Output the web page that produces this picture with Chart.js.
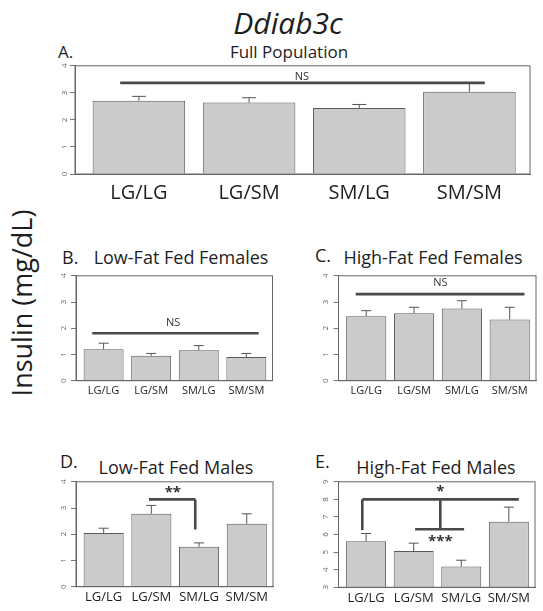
<!DOCTYPE html>
<html>
<head>
<meta charset="utf-8">
<script src="https://cdn.jsdelivr.net/npm/chart.js@4.4.1/dist/chart.umd.min.js"></script>
<style>
    body { margin: 0; background: #fff; width: 543px; height: 611px; position: relative; overflow: hidden;
           font-family: "Open Sans", sans-serif; color: #1e1e1e; }
    .txt { position: absolute; white-space: nowrap; line-height: 1; transform: translate(-50%, -50%); }
    .lbl { position: absolute; white-space: nowrap; line-height: 1; transform: translateY(-50%); }
    canvas { position: absolute; }
</style>
</head>
<body>

<div class="txt" style="left:288px;top:23px;font-size:30px;font-style:italic;">Ddiab3c</div>
<div class="txt" style="left:21px;top:303px;font-size:27px;transform:translate(-50%,-50%) rotate(-90deg);">Insulin (mg/dL)</div>

<div class="lbl" style="left:58px;top:51px;font-size:17px;">A.</div>
<div class="txt" style="left:289px;top:51px;font-size:17px;">Full Population</div>

<div class="lbl" style="left:62px;top:257px;font-size:18px;">B.</div>
<div class="txt" style="left:181px;top:257px;font-size:18px;">Low-Fat Fed Females</div>

<div class="lbl" style="left:315px;top:255px;font-size:18px;">C.</div>
<div class="txt" style="left:433px;top:257px;font-size:18px;">High-Fat Fed Females</div>

<div class="lbl" style="left:60px;top:461px;font-size:18px;">D.</div>
<div class="txt" style="left:176px;top:467px;font-size:18px;">Low-Fat Fed Males</div>

<div class="lbl" style="left:315px;top:461px;font-size:18px;">E.</div>
<div class="txt" style="left:436px;top:467px;font-size:18px;">High-Fat Fed Males</div>

<canvas id="chartA" width="495" height="150" style="left:40px;top:58px;"></canvas>
<canvas id="chartB" width="238" height="134" style="left:40px;top:266px;"></canvas>
<canvas id="chartC" width="243" height="134" style="left:300px;top:266px;"></canvas>
<canvas id="chartD" width="238" height="139" style="left:40px;top:472px;"></canvas>
<canvas id="chartE" width="243" height="139" style="left:300px;top:472px;"></canvas>

<script>
// DATA

const genotypes = ["LG/LG", "LG/SM", "SM/LG", "SM/SM"];

// insulin means and standard errors (mg/dL)
const fullMean = [2.71, 2.64, 2.44, 3.04];
const fullSE = [0.16, 0.18, 0.13, 0.33];

const lowFatFemaleMean = [1.20, 0.95, 1.16, 0.90];
const lowFatFemaleSE = [0.23, 0.09, 0.18, 0.14];

const highFatFemaleMean = [2.46, 2.57, 2.75, 2.33];
const highFatFemaleSE = [0.21, 0.23, 0.30, 0.47];

const lowFatMaleMean = [2.05, 2.78, 1.52, 2.40];
const lowFatMaleSE = [0.18, 0.32, 0.15, 0.38];

const highFatMaleMean = [5.62, 5.06, 4.18, 6.73];
const highFatMaleSE = [0.44, 0.45, 0.36, 0.83];

// y axis ranges
const yRange = [0, 4];
const yRangeHighFatMale = [3, 9];

// significance marks: [x1, y1, x2, y2] in genotype index / insulin units, then labels
const sigLinesA = [[-0.17, 3.37, 3.14, 3.37]];
const sigTextA = [[1.48, 3.6, "NS"]];
const sigLinesB = [[-0.24, 1.81, 3.26, 1.81]];
const sigTextB = [[1.46, 2.2, "NS"]];
const sigLinesC = [[-0.22, 3.30, 3.31, 3.30]];
const sigTextC = [[1.55, 3.72, "NS"]];
const sigLinesD = [[0.95, 3.33, 1.92, 3.33], [1.92, 3.33, 1.92, 2.18]];
const sigTextD = [[1.45, 3.6, "**"]];
const sigLinesE = [[-0.08, 8.0, 3.21, 8.0], [-0.08, 8.0, -0.08, 6.25], [1.56, 8.0, 1.56, 6.3], [1.03, 6.3, 2.06, 6.3]];
const sigTextE = [[1.56, 8.42, "*"], [1.56, 5.6, "***"]];


Chart.defaults.font.family = "'Open Sans', sans-serif";
Chart.defaults.color = "#1e1e1e";


// error bars, box and significance marks
const extras = {
    id: "extras",
    afterDatasetsDraw(chart, args, opts) {
        const ctx = chart.ctx;
        const xs = chart.scales.x;
        const ys = chart.scales.y;
        const area = chart.chartArea;
        const meta = chart.getDatasetMeta(0);

        ctx.save();
        ctx.strokeStyle = "#555";
        ctx.lineWidth = 1;
        opts.means.forEach((m, i) => {
            const bx = meta.data[i].x;
            const y0 = ys.getPixelForValue(m);
            const y1 = ys.getPixelForValue(m + opts.errors[i]);
            ctx.beginPath();
            ctx.moveTo(bx, y0);
            ctx.lineTo(bx, y1);
            ctx.moveTo(bx - opts.cap, y1);
            ctx.lineTo(bx + opts.cap, y1);
            ctx.stroke();
        });

        ctx.strokeStyle = "#666";
        ctx.strokeRect(area.left, area.top, area.right - area.left, area.bottom - area.top);

        ctx.strokeStyle = "#4a4a4a";
        ctx.lineWidth = 2.6;
        ctx.lineCap = "butt";
        opts.lines.forEach(l => {
            ctx.beginPath();
            ctx.moveTo(xs.getPixelForValue(l[0]), ys.getPixelForValue(l[1]));
            ctx.lineTo(xs.getPixelForValue(l[2]), ys.getPixelForValue(l[3]));
            ctx.stroke();
        });

        ctx.fillStyle = "#333";
        ctx.textAlign = "center";
        ctx.textBaseline = "middle";
        opts.texts.forEach(t => {
            ctx.font = (t[2] === "NS" ? "11px" : "bold 15px") + " 'Open Sans', sans-serif";
            ctx.fillText(t[2], xs.getPixelForValue(t[0]), ys.getPixelForValue(t[1]));
        });
        ctx.restore();
    }
};


function renderPanel(id, means, errors, range, lines, texts, box) {
    const canvas = document.getElementById(id);

    if (!canvas) {
        console.log("Canvas not found:", id);
        return;
    }

    new Chart(canvas, {
        type: "bar",
        data: {
            datasets: [{
                data: genotypes.map((g, i) => ({ x: i, y: means[i] })),
                backgroundColor: "#cbcbcb",
                borderColor: "#5a5a5a",
                borderWidth: 1,
                barPercentage: 0.84,
                categoryPercentage: 1
            }]
        },
        options: {
            responsive: false,
            animation: false,
            layout: {
                padding: { left: 0, top: box.top, right: box.right, bottom: 0 }
            },
            plugins: {
                legend: { display: false },
                tooltip: { enabled: false },
                extras: { means: means, errors: errors, lines: lines, texts: texts, cap: box.cap }
            },
            scales: {
                x: {
                    type: "linear",
                    min: -0.58,
                    max: 3.55,
                    offset: false,
                    // one tick per genotype
                    afterBuildTicks: s => { s.ticks = genotypes.map((g, i) => ({ value: i })); },
                    afterFit: s => { s.height = box.xHeight; },
                    grid: { display: false, drawTicks: false, offset: false },
                    border: { display: true, color: "#666" },
                    ticks: {
                        autoSkip: false,
                        maxRotation: 0,
                        padding: box.labelPad,
                        color: "#1e1e1e",
                        font: { size: box.labelSize },
                        callback: v => genotypes[v]
                    }
                },
                y: {
                    min: range[0],
                    max: range[1],
                    afterFit: s => { s.width = box.left; },
                    grid: { drawOnChartArea: false, drawTicks: true, tickLength: 5, color: "#777" },
                    border: { display: true, color: "#666" },
                    ticks: {
                        stepSize: 1,
                        minRotation: 90,
                        maxRotation: 90,
                        crossAlign: "center",
                        padding: box.tickPad,
                        color: "#666",
                        font: { size: 8 }
                    }
                }
            }
        },
        plugins: [extras]
    });
}

renderPanel("chartA", fullMean, fullSE, yRange, sigLinesA, sigTextA,
    { left: 35, top: 4.5, right: 5, xHeight: 34, labelSize: 20, labelPad: 7, tickPad: 3, cap: 7 });
renderPanel("chartB", lowFatFemaleMean, lowFatFemaleSE, yRange, sigLinesB, sigTextB,
    { left: 36, top: 4, right: 5.5, xHeight: 19.3, labelSize: 11, labelPad: 3.5, tickPad: 5, cap: 5 });
renderPanel("chartC", highFatFemaleMean, highFatFemaleSE, yRange, sigLinesC, sigTextC,
    { left: 38.5, top: 4, right: 7, xHeight: 19.3, labelSize: 11, labelPad: 3.5, tickPad: 5, cap: 5 });
renderPanel("chartD", lowFatMaleMean, lowFatMaleSE, yRange, sigLinesD, sigTextD,
    { left: 36, top: 4.7, right: 5, xHeight: 24.3, labelSize: 13, labelPad: 3, tickPad: 5, cap: 5 });
renderPanel("chartE", highFatMaleMean, highFatMaleSE, yRangeHighFatMale, sigLinesE, sigTextE,
    { left: 38.5, top: 4.7, right: 8, xHeight: 23.7, labelSize: 13, labelPad: 3, tickPad: 5, cap: 5 });
</script>
</body>
</html>
